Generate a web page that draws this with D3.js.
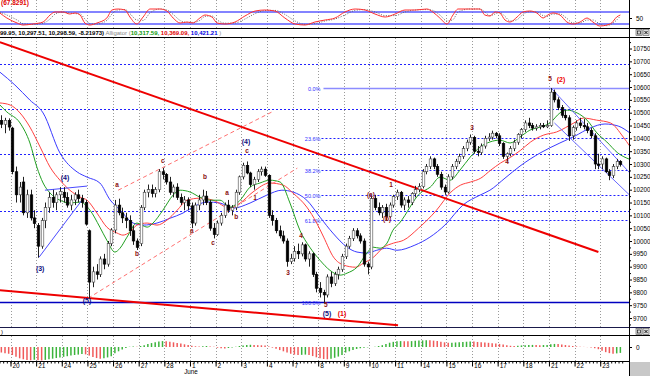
<!DOCTYPE html>
<html>
<head>
<meta charset="utf-8">
<title>Hourly chart</title>
<script src="https://cdn.jsdelivr.net/npm/d3@7"></script>
<style>
  body { margin: 0; background: #fff; }
  svg { display: block; font-family: 'Liberation Sans', Arial, sans-serif; }
</style>
</head>
<body>
<svg width="650" height="376"></svg>
<script>
// ---------- data ----------
const dayLabels = ['20', '21', '24', '25', '26', '27', '28', '1', '2', '3', '4', '7', '8', '9', '10', '11', '14', '15', '16', '17', '18', '21', '22', '23']
const barsPerDay = 7
const firstBar = -3   // three bars of the previous session are visible at the left edge

const opens = [
  10470, 10455, 10470,
  10440, 10270, 10180, 10230, 10110, 10180, 10090,
  10060, 9980, 10080, 10130, 10170, 10150, 10180,
  10190, 10170, 10140, 10160, 10180, 10165, 10150,
  10040, 9840, 9880, 9870, 9930, 9910, 9990,
  10043, 10140, 10110, 10090, 10080, 10040, 10000,
  9990, 10130, 10190, 10200, 10185, 10200, 10270,
  10259, 10230, 10190, 10210, 10170, 10150, 10160,
  10137, 10070, 10140, 10160, 10175, 10150, 10050,
  10025, 10070, 10100, 10140, 10120, 10130, 10190,
  10250, 10295, 10265, 10220, 10240, 10270, 10280,
  10256, 10100, 10080, 10040, 10020, 10000, 9920,
  9932, 9960, 9950, 9985, 9930, 9950, 9870,
  9816, 9800, 9790, 9860, 9835, 9870, 9890,
  9940, 9980, 10010, 10040, 10020, 10000, 9910,
  9899, 10165, 10130, 10110, 10130, 10095, 10140,
  10173, 10190, 10140, 10160, 10150, 10185, 10200,
  10212, 10270, 10290, 10320, 10290, 10260, 10210,
  10191, 10250, 10290, 10310, 10330, 10360, 10385,
  10404, 10350, 10345, 10370, 10400, 10405, 10420,
  10410, 10380, 10330, 10340, 10360, 10385, 10415,
  10434, 10460, 10450, 10440, 10445, 10450, 10445,
  10450, 10580, 10550, 10520, 10490, 10480, 10410,
  10442, 10460, 10450, 10445, 10430, 10410, 10300,
  10300, 10320, 10270, 10255, 10290, 10310
]
const highs = [
  10490, 10480, 10478,
  10445, 10290, 10230, 10250, 10200, 10200, 10120,
  10070, 10090, 10150, 10190, 10200, 10190, 10210,
  10210, 10190, 10180, 10190, 10200, 10180, 10160,
  10045, 9900, 9910, 9940, 9950, 10000, 10050,
  10160, 10165, 10130, 10110, 10100, 10060, 10010,
  10140, 10200, 10220, 10220, 10210, 10280, 10285,
  10265, 10250, 10220, 10225, 10185, 10175, 10170,
  10150, 10150, 10180, 10200, 10195, 10160, 10070,
  10080, 10110, 10150, 10160, 10140, 10200, 10255,
  10305, 10310, 10270, 10250, 10280, 10290, 10290,
  10260, 10120, 10090, 10060, 10040, 10010, 9950,
  9980, 9990, 9995, 9990, 9960, 9955, 9880,
  9840, 9810, 9870, 9880, 9880, 9900, 9950,
  9990, 10020, 10050, 10050, 10030, 10010, 9920,
  10175, 10180, 10150, 10140, 10145, 10150, 10180,
  10200, 10195, 10170, 10175, 10190, 10215, 10225,
  10280, 10300, 10330, 10325, 10300, 10270, 10220,
  10260, 10300, 10320, 10340, 10370, 10395, 10415,
  10410, 10370, 10380, 10410, 10420, 10430, 10425,
  10420, 10385, 10345, 10370, 10395, 10420, 10440,
  10470, 10480, 10460, 10455, 10460, 10460, 10470,
  10596, 10590, 10560, 10530, 10510, 10490, 10450,
  10470, 10480, 10475, 10460, 10440, 10420, 10340,
  10330, 10325, 10280, 10300, 10320, 10315
]
const lows = [
  10440, 10420, 10430,
  10260, 10150, 10150, 10100, 10090, 10080, 10050,
  9935, 9970, 10050, 10110, 10130, 10120, 10150,
  10150, 10130, 10120, 10140, 10150, 10130, 10060,
  9775, 9820, 9850, 9860, 9890, 9900, 9980,
  10030, 10100, 10070, 10050, 10020, 9985, 9965,
  9980, 10120, 10170, 10170, 10170, 10190, 10240,
  10220, 10180, 10170, 10160, 10140, 10120, 10120,
  10050, 10060, 10120, 10140, 10140, 10040, 10010,
  10020, 10060, 10090, 10110, 10100, 10120, 10180,
  10240, 10260, 10210, 10200, 10230, 10255, 10250,
  10090, 10060, 10030, 10010, 9990, 9900, 9910,
  9920, 9930, 9940, 9920, 9900, 9860, 9800,
  9780, 9757, 9780, 9820, 9825, 9850, 9880,
  9930, 9970, 10000, 10010, 9990, 9900, 9870,
  9890, 10120, 10100, 10090, 10080, 10090, 10130,
  10160, 10130, 10120, 10130, 10140, 10170, 10190,
  10205, 10260, 10280, 10280, 10250, 10200, 10180,
  10185, 10240, 10280, 10300, 10320, 10350, 10375,
  10340, 10330, 10335, 10360, 10390, 10395, 10400,
  10370, 10320, 10310, 10330, 10350, 10375, 10400,
  10425, 10440, 10430, 10430, 10435, 10440, 10440,
  10445, 10540, 10510, 10480, 10470, 10390, 10395,
  10430, 10440, 10435, 10420, 10400, 10280, 10280,
  10280, 10265, 10237, 10245, 10280, 10290
]
const closes = [
  10455, 10470, 10444,
  10270, 10180, 10210, 10110, 10180, 10090, 10068,
  9980, 10080, 10130, 10170, 10150, 10180, 10193,
  10170, 10140, 10160, 10180, 10165, 10150, 10066,
  9840, 9880, 9870, 9930, 9910, 9990, 10043,
  10140, 10110, 10090, 10080, 10040, 10000, 9975,
  10130, 10190, 10200, 10185, 10200, 10270, 10259,
  10230, 10190, 10210, 10170, 10150, 10160, 10137,
  10070, 10140, 10160, 10175, 10150, 10050, 10025,
  10070, 10100, 10140, 10120, 10130, 10190, 10250,
  10295, 10265, 10220, 10240, 10270, 10280, 10256,
  10100, 10080, 10040, 10020, 10000, 9920, 9932,
  9960, 9950, 9985, 9930, 9950, 9870, 9816,
  9800, 9790, 9860, 9835, 9870, 9890, 9940,
  9980, 10010, 10040, 10020, 10000, 9910, 9899,
  10165, 10130, 10110, 10130, 10095, 10140, 10173,
  10190, 10140, 10160, 10150, 10185, 10200, 10212,
  10270, 10290, 10320, 10290, 10260, 10210, 10191,
  10250, 10290, 10310, 10330, 10360, 10385, 10404,
  10350, 10345, 10370, 10400, 10405, 10420, 10410,
  10380, 10330, 10340, 10360, 10385, 10415, 10434,
  10460, 10450, 10440, 10445, 10450, 10445, 10450,
  10580, 10550, 10520, 10490, 10480, 10410, 10442,
  10460, 10450, 10445, 10430, 10410, 10300, 10294,
  10320, 10270, 10255, 10290, 10310, 10298
]

// awesome-oscillator histogram, one value per bar
const aoValues = [
  -45, -50, -55,
  -65, -80, -92, -100, -105, -108, -104,
  -108, -110, -105, -100, -95, -90, -85,
  -80, -75, -70, -65, -62, -58, -60,
  -70, -82, -90, -95, -92, -85, -75,
  -50, -35, -20, -8, 2, 5, 3,
  8, 15, 24, 32, 38, 44, 48,
  46, 42, 38, 33, 28, 22, 16,
  10, 6, 5, 7, 8, 5, 2,
  -6, -10, -12, -8, -4, 2, 8,
  12, 16, 18, 17, 15, 14, 12,
  5, -5, -15, -25, -35, -45, -55,
  -62, -66, -64, -62, -66, -74, -84,
  -92, -98, -100, -96, -88, -78, -66,
  -45, -35, -25, -16, -10, -6, -3,
  0, 3, 8, 15, 25, 35, 42,
  46, 48, 47, 46, 48, 50, 52,
  54, 56, 55, 52, 48, 42, 38,
  34, 35, 37, 39, 41, 43, 45,
  44, 41, 38, 36, 34, 31, 28,
  25, 20, 15, 10, 8, 10, 13,
  15, 16, 17, 16, 15, 16, 17,
  22, 25, 24, 20, 16, 12, 8,
  5, 3, 1, -1, -4, -10, -18,
  -30, -42, -50, -55, -52, -48
]

// alligator lines, read as [bar, price]
const jaw = [[-3.4, 10658], [0.7, 10608], [4.8, 10549], [8.4, 10499], [13, 10343], [17.7, 10269], [20.4, 10249],
  [23.9, 10226], [26.7, 10160], [29.4, 10121], [33, 10070], [35.7, 10062], [39.5, 10070], [43.1, 10089],
  [46.6, 10109], [49.3, 10132], [53.2, 10152], [56.7, 10148], [60.3, 10128], [64.9, 10148], [69.5, 10179],
  [73.6, 10198], [76.6, 10191], [80.4, 10159], [84, 10093], [87.5, 10031], [91.4, 9976], [94.1, 9957],
  [96.8, 9953], [99.5, 9964], [102.2, 9972], [105, 9964], [109.9, 9984], [114, 10015], [118.1, 10062],
  [123, 10140], [127.7, 10179], [130.4, 10198], [134.5, 10245], [138.6, 10292], [144.1, 10343],
  [149.5, 10382], [153.6, 10409], [157.7, 10440], [161.8, 10456], [165.4, 10448], [168.6, 10421]]
const teeth = [[-3.4, 10538], [-0.6, 10530], [2.1, 10499], [4.8, 10444], [7.6, 10366], [10.3, 10288], [13, 10237],
  [15.7, 10198], [18.5, 10171], [20.4, 10159], [23.1, 10109], [25.8, 10054], [28.6, 10031], [30.2, 10023],
  [32.1, 10035], [34, 10062], [36.8, 10070], [39.5, 10062], [42.2, 10081], [45, 10120], [47.7, 10159],
  [51.3, 10167], [54.8, 10159], [59.4, 10128], [62.2, 10148], [65.7, 10191], [70.3, 10226], [73.9, 10218],
  [76.6, 10187], [80.4, 10132], [83.1, 10070], [85, 10015], [87.7, 9937], [90.5, 9906], [93.7, 9898],
  [95.9, 9914], [98.6, 9937], [101.4, 9976], [104.1, 9992], [106.8, 10003], [110.9, 10050], [115.8, 10120],
  [119.7, 10190], [122.4, 10218], [125.1, 10230], [127.9, 10245], [130.6, 10276], [133.3, 10304],
  [136.1, 10327], [138.8, 10354], [141.5, 10386], [145.1, 10413], [148.6, 10425], [153.3, 10460],
  [155.9, 10479], [159.5, 10471], [163.3, 10460], [166.8, 10405], [168.6, 10369]]
const lips = [[-3.4, 10530], [-1.5, 10503], [2.1, 10460], [4.8, 10382], [6.7, 10288], [8.4, 10226], [10.3, 10187],
  [13, 10159], [15.7, 10148], [18.5, 10152], [21.2, 10120], [23.9, 10054], [25.8, 10003], [28, 9957],
  [29.4, 9972], [31.3, 10015], [34, 10070], [36.8, 10054], [38.4, 10070], [41.1, 10120], [43.9, 10179],
  [45.8, 10198], [48.5, 10191], [51.2, 10171], [54, 10159], [56.7, 10159], [59.4, 10132], [62.2, 10159],
  [64.9, 10210], [67.6, 10226], [70.3, 10237], [73.1, 10230], [75.8, 10148], [78.5, 10042], [81.2, 9976],
  [84, 9925], [86.7, 9886], [89.5, 9867], [91.4, 9875], [94.1, 9898], [96.8, 9953], [98.5, 9976],
  [100.4, 9972], [102.3, 9992], [103.9, 10042], [105.7, 10070], [111.4, 10187], [114.1, 10210],
  [116.8, 10249], [119.5, 10237], [122.2, 10276], [125, 10327], [127.7, 10366], [130.4, 10386],
  [133.1, 10393], [135.9, 10382], [138.6, 10405], [141.3, 10432], [144.1, 10444], [146.8, 10460],
  [149.5, 10499], [151.5, 10510], [154.2, 10499], [156.9, 10471], [159.6, 10421], [162.3, 10386],
  [165.3, 10343], [168.6, 10318]]

// stochastic oscillator (top panel)
const stochBars = [-3.4, -1.5, 1.3, 2.9, 5.6, 8.4, 10.3, 11.7, 13.8, 15.7, 17.1, 18.5, 19.8, 21.2, 23.1, 25.8, 27.2,
  28.8, 30.8, 32.1, 34, 35.7, 37.6, 40.3, 42.2, 43.9, 45.8, 47.7, 49.3, 51.2, 52.6, 54.5, 55.9, 58.1, 60.8,
  63.5, 66.3, 69, 71.7, 74.4, 77.2, 79.9, 82.6, 85.4, 88.1, 90.8, 93.6, 96.3, 99, 101.8, 104.5, 107.2, 110,
  113.2, 114.8, 116.7, 118.7, 120.3, 121.7, 124.9, 127.7, 129, 130.4, 131.8, 133.1, 134.5, 135.9, 137.8,
  139.4, 141.3, 143.2, 144.9, 146.2, 147.6, 149.5, 151.4, 153.1, 155, 156.9, 158.5, 160.4, 162.3, 163.6, 165, 166]
const stochK = [75, 50, 25, 15, 20, 30, 65, 80, 80, 70, 75, 65, 25, 15, 25, 50, 90, 95, 90, 55, 20, 55, 95, 95, 85,
  50, 25, 30, 25, 50, 65, 55, 25, 20, 30, 60, 85, 90, 85, 50, 20, 15, 30, 40, 50, 80, 95, 90, 70, 55, 70, 90, 90,
  95, 80, 50, 20, 65, 95, 95, 95, 65, 60, 80, 75, 40, 30, 55, 80, 85, 75, 50, 65, 75, 65, 30, 20, 30, 50, 30,
  10, 15, 25, 55, 65]
const stochD = [80, 65, 40, 22, 18, 24, 45, 70, 80, 75, 72, 70, 45, 22, 20, 38, 70, 90, 92, 72, 40, 38, 75, 95, 90,
  68, 38, 28, 28, 38, 58, 60, 40, 24, 25, 45, 72, 87, 88, 68, 35, 18, 22, 35, 45, 65, 88, 92, 80, 62, 62, 80, 90,
  92, 88, 65, 35, 42, 80, 95, 95, 80, 62, 70, 78, 58, 35, 42, 68, 82, 80, 62, 58, 70, 70, 48, 25, 25, 40, 40,
  20, 12, 20, 40, 60]

// drawn trend lines: [bar, price] end points
const redTrend = [[-3.4, 10775], [160, 9957]]
const redBase = [[-3.4, 9808], [105.3, 9672]]
const redDashUpper = [[28.9, 10198], [70.9, 10503]]
const redDashLower = [[20.7, 9777], [77.8, 10284]]
const blueTriA = [[7.3, 9937], [19, 10159]]
const blueTriB = [[8.9, 10198], [20.4, 10214]]
const blueChanUpper = [[147.1, 10596], [168.6, 10265]]
const blueChanLower = [[148, 10460], [168.6, 10178]]

// fibonacci retracement and horizontal levels
const fibHigh = 10596
const fibLow = 9764
const fibRatios = [0, 0.236, 0.382, 0.5, 0.618, 1]
const fibLabels = ['0.0%', '23.6%', '38.2%', '50.0%', '61.8%', '100.0%']
const fibStartBar = 84.4
const levels = [10690, 10514, 10339, 10117]

// wave labels: [bar, price, text]
const redLabels = [[28.6, 10218, 'a'], [34, 9949, 'b'], [41.1, 10311, 'c'], [49, 10039, 'a'], [52.6, 10249, 'b'],
  [54.8, 9992, 'c'], [58.6, 10187, 'a'], [61.1, 10093, 'b'], [64.1, 10350, 'c'], [66.3, 10167, '1'],
  [75.3, 9875, '3'], [78.8, 10019, '4'], [85.6, 9752, '5'], [97.9, 10179, '(a)'], [102.3, 10085, '(b)'],
  [103.4, 10218, '1'], [125.5, 10440, '3'], [135.1, 10308, '4'], [146.8, 10631, '5']]
const brightLabels = [[90, 9719, '(1)'], [149.8, 10631, '(2)']]
const blueLabels = [[7.6, 9894, '(3)'], [14.4, 10249, '(4)'], [20.4, 9770, '(5)'], [63.8, 10389, '(4)'], [85.9, 9719, '(5)']]

// header texts
const stochTitle = '(67.8291)'
const priceHeader = '99.95, 10,297.51, 10,298.59, -8.21973)'
const alligatorValues = ['10,317.59,', '10,369.09,', '10,421.21']

// ---------- layout ----------
const svg = d3.select('svg')
const axisX = 629
const stochBox = { top: 0, bottom: 28 }
const mainBox = { top: 38, bottom: 327 }
const aoBox = { top: 336, bottom: 361 }

const x = d3.scaleLinear().domain([0, 24 * barsPerDay]).range([10.5, 10.5 + 24 * 25.64])
const xc = b => x(b + 0.5)
const y = d3.scaleLinear().domain([9665, 10791]).range([mainBox.bottom, mainBox.top])
const yStoch = d3.scaleLinear().domain([0, 100]).range([28, 8])
const yAo = d3.scaleLinear().domain([-110, 110]).range([360.5, 333.5])

const defs = svg.append('defs')
const clip = (id, top, bottom) => defs.append('clipPath').attr('id', id)
  .append('rect').attr('x', 0).attr('y', top).attr('width', axisX).attr('height', bottom - top)
clip('cMain', mainBox.top, mainBox.bottom)
clip('cStoch', stochBox.top, stochBox.bottom)
clip('cAo', aoBox.top, aoBox.bottom)

// bottom right grey box
svg.append('rect').attr('x', axisX + 1).attr('y', 362).attr('width', 21).attr('height', 14).attr('fill', '#c8c8c8')

// vertical day gridlines in every panel
const dayStarts = d3.range(dayLabels.length).map(d => d * barsPerDay)
const grid = svg.append('g').attr('stroke', '#9a9a9a').attr('stroke-dasharray', '1,2').attr('stroke-width', 1)
;[[stochBox.top, stochBox.bottom], [mainBox.top, mainBox.bottom], [aoBox.top, aoBox.bottom]].forEach(([t, b]) => {
  grid.selectAll(null).data(dayStarts).join('line')
    .attr('x1', d => Math.round(x(d)) + 0.5).attr('x2', d => Math.round(x(d)) + 0.5)
    .attr('y1', t).attr('y2', b)
})

// ---------- stochastic panel ----------
const gS = svg.append('g').attr('clip-path', 'url(#cStoch)')
gS.selectAll(null).data([80, 20]).join('line')
  .attr('x1', 0).attr('x2', axisX).attr('y1', d => yStoch(d)).attr('y2', d => yStoch(d))
  .attr('stroke', '#5a5aff').attr('stroke-width', 1.5)
const stochLine = vals => d3.line().x((d, i) => xc(stochBars[i])).y(d => yStoch(d)).curve(d3.curveMonotoneX)(vals)
gS.append('path').attr('d', stochLine(stochD)).attr('fill', 'none').attr('stroke', '#666')
  .attr('stroke-width', 1).attr('stroke-dasharray', '1,1.5')
gS.append('path').attr('d', stochLine(stochK)).attr('fill', 'none').attr('stroke', '#ff3030').attr('stroke-width', 1)
svg.append('text').attr('x', 1).attr('y', 5).attr('fill', '#e00000').attr('font-size', 6.5).attr('font-weight', 'bold').text(stochTitle)
svg.append('g').attr('transform', `translate(${axisX},0)`)
  .call(d3.axisRight(yStoch).tickValues([50]).tickSize(3))
  .call(g => g.select('.domain').remove())
  .call(g => g.selectAll('text').attr('font-size', 6.5).attr('x', 7).attr('font-family', 'Liberation Sans'))

// ---------- header rows ----------
const hdr = svg.append('g')
hdr.append('rect').attr('x', 0).attr('y', 29).attr('width', 650).attr('height', 8).attr('fill', '#fff')
const ht = hdr.append('text').attr('x', 0).attr('y', 35.3).attr('font-size', 6).attr('font-weight', 'bold')
ht.append('tspan').attr('fill', '#000').text(priceHeader)
ht.append('tspan').attr('fill', '#888').attr('font-weight', 'normal').text(' Alligator (')
const algColors = ['#0a9a0a', '#e00000', '#0000e0']
alligatorValues.forEach((v, i) => ht.append('tspan').attr('fill', algColors[i]).text(i ? ' ' + v : v))
ht.append('tspan').attr('fill', '#888').attr('font-weight', 'normal').text(' )')
svg.append('text').attr('x', 1).attr('y', 333.5).attr('font-size', 6).text(')')

// small window buttons
;[29.5, 328.5].forEach(t => {
  ;[636, 643].forEach((bx, k) => {
    const b = svg.append('g').attr('transform', `translate(${bx},${t})`)
    b.append('rect').attr('width', 6).attr('height', 6).attr('fill', '#ddd').attr('stroke', '#555').attr('stroke-width', 0.6)
    if (k) {
      b.append('path').attr('d', 'M1.5,1.5L4.5,4.5M4.5,1.5L1.5,4.5').attr('stroke', '#000').attr('stroke-width', 0.9)
    } else {
      b.append('rect').attr('x', 1.5).attr('y', 1.5).attr('width', 3).attr('height', 3).attr('fill', 'none').attr('stroke', '#000').attr('stroke-width', 0.6)
    }
  })
})

// ---------- main price panel ----------
const gM = svg.append('g').attr('clip-path', 'url(#cMain)')

// horizontal levels
gM.selectAll(null).data(levels).join('line')
  .attr('x1', 0).attr('x2', axisX).attr('y1', d => Math.round(y(d)) + 0.5).attr('y2', d => Math.round(y(d)) + 0.5)
  .attr('stroke', '#2020ff').attr('stroke-dasharray', '2,2')

// fibonacci levels
const fibPrice = r => fibHigh - r * (fibHigh - fibLow)
fibRatios.forEach((r, i) => {
  const yy = Math.round(y(fibPrice(r))) + 0.5
  const line = gM.append('line').attr('y1', yy).attr('y2', yy).attr('x2', axisX)
  if (r === 1) {
    line.attr('x1', 0).attr('stroke', '#0000c0').attr('stroke-width', 1.6)
  } else if (r === 0) {
    line.attr('x1', xc(fibStartBar) + 2).attr('stroke', '#8c8cff').attr('stroke-width', 1.6)
  } else {
    line.attr('x1', xc(fibStartBar)).attr('stroke', '#2020ff').attr('stroke-dasharray', '2,2')
  }
  gM.append('text').attr('x', xc(fibStartBar) - 1).attr('y', yy + 2).attr('text-anchor', 'end')
    .attr('font-size', 5.5).attr('fill', '#3030ff').text(fibLabels[i])
})

// alligator
const alLine = d3.line().x(d => xc(d[0])).y(d => y(d[1])).curve(d3.curveMonotoneX)
;[[jaw, '#3a3aff'], [teeth, '#ff4040'], [lips, '#22a022']].forEach(([pts, c]) => {
  gM.append('path').attr('d', alLine(pts)).attr('fill', 'none').attr('stroke', c).attr('stroke-width', 1)
})

// trend lines
const seg = (pts, color, w, dash) => gM.append('line')
  .attr('x1', xc(pts[0][0])).attr('y1', y(pts[0][1])).attr('x2', xc(pts[1][0])).attr('y2', y(pts[1][1]))
  .attr('stroke', color).attr('stroke-width', w).attr('stroke-dasharray', dash || null)
seg(redTrend, '#ee0000', 2)
seg(redBase, '#ee0000', 2)
seg(redDashUpper, '#ff7070', 1, '4,3')
seg(redDashLower, '#ff7070', 1, '4,3')
seg(blueTriA, '#4a4aff', 1)
seg(blueTriB, '#4a4aff', 1)
seg(blueChanUpper, '#6a6aff', 1)
seg(blueChanLower, '#6a6aff', 1)

// candles
const bars = d3.range(opens.length).map(k => ({
  b: firstBar + k, o: opens[k], h: highs[k], l: lows[k], c: closes[k]
}))
const cg = gM.append('g')
cg.selectAll('line.w').data(bars).join('line').attr('class', 'w')
  .attr('x1', d => Math.round(xc(d.b)) + 0.5).attr('x2', d => Math.round(xc(d.b)) + 0.5)
  .attr('y1', d => y(d.h)).attr('y2', d => y(d.l)).attr('stroke', '#222').attr('stroke-width', 1)
cg.selectAll('rect').data(bars).join('rect')
  .attr('x', d => Math.round(xc(d.b)) - 0.8).attr('width', 2.6)
  .attr('y', d => y(Math.max(d.o, d.c)))
  .attr('height', d => Math.max(0.8, Math.abs(y(d.o) - y(d.c))))
  .attr('fill', d => d.c >= d.o ? '#fff' : '#000')
  .attr('stroke', d => d.c >= d.o ? '#444' : '#000').attr('stroke-width', 0.6)

// wave labels
const lab = (arr, color, size, weight) => gM.selectAll(null).data(arr).join('text')
  .attr('x', d => xc(d[0])).attr('y', d => y(d[1])).attr('dy', '0.35em').attr('text-anchor', 'middle')
  .attr('font-size', size).attr('font-weight', weight).attr('fill', color).text(d => d[2])
lab(redLabels, '#8a1010', 6.5, 'bold')
lab(brightLabels, '#ee0000', 7, 'bold')
lab(blueLabels, '#101080', 7, 'bold')

// price axis
const priceTicks = d3.range(9700, 10751, 50)
svg.append('g').attr('transform', `translate(${axisX},0)`)
  .call(d3.axisRight(y).tickValues(d3.range(9675, 10776, 50)).tickSize(2).tickFormat(''))
  .call(g => g.select('.domain').remove())
svg.append('g').attr('transform', `translate(${axisX},0)`)
  .call(d3.axisRight(y).tickValues(priceTicks).tickSize(3).tickFormat(d3.format('d')))
  .call(g => g.select('.domain').remove())
  .call(g => g.selectAll('text').attr('font-size', 6.3).attr('x', 4).attr('font-family', 'Liberation Sans'))

// ---------- AO panel ----------
const gA = svg.append('g').attr('clip-path', 'url(#cAo)')
gA.selectAll('line').data(aoValues).join('line')
  .attr('x1', (d, k) => xc(firstBar + k)).attr('x2', (d, k) => xc(firstBar + k))
  .attr('y1', yAo(0)).attr('y2', d => yAo(d))
  .attr('stroke', (d, k) => k > 0 && d > aoValues[k - 1] ? '#3cb43c' : '#f05a5a')
  .attr('stroke-width', 1.5)
svg.append('g').attr('transform', `translate(${axisX},0)`)
  .call(d3.axisRight(yAo).tickValues([0]).tickSize(3))
  .call(g => g.select('.domain').remove())
  .call(g => g.selectAll('text').attr('font-size', 6.5).attr('x', 7).attr('font-family', 'Liberation Sans'))

// ---------- date axis ----------
const gx = svg.append('g').attr('transform', 'translate(0,361.5)')
gx.call(d3.axisBottom(x).tickValues(d3.range(firstBar, 24 * barsPerDay)).tickSize(2).tickFormat(''))
  .call(g => g.select('.domain').remove())
gx.append('g').call(d3.axisBottom(x).tickValues(dayStarts).tickSize(5)
  .tickFormat((d, i) => dayLabels[i]))
  .call(g => g.select('.domain').remove())
  .call(g => g.selectAll('text').attr('font-size', 6.5).attr('text-anchor', 'start').attr('x', 1.5).attr('y', 1.4)
    .attr('font-family', 'Liberation Sans'))
gx.append('text').attr('x', x(7 * barsPerDay) + 1).attr('y', 12.6).attr('font-size', 6.3)
  .attr('fill', '#000').attr('font-family', 'Liberation Sans').text('June')

// ---------- frame lines ----------
const frame = svg.append('g').attr('stroke', '#000').attr('shape-rendering', 'crispEdges')
frame.append('line').attr('x1', 0).attr('x2', 650).attr('y1', 28.5).attr('y2', 28.5)
frame.append('line').attr('x1', 0).attr('x2', 650).attr('y1', 37.5).attr('y2', 37.5)
frame.append('line').attr('x1', 0).attr('x2', 650).attr('y1', 327.5).attr('y2', 327.5).attr('stroke', '#1a1a4a').attr('stroke-width', 1.5)
frame.append('line').attr('x1', 0).attr('x2', 650).attr('y1', 335.5).attr('y2', 335.5)
frame.append('line').attr('x1', 0).attr('x2', axisX).attr('y1', 361.5).attr('y2', 361.5)
frame.append('line').attr('x1', axisX + 0.5).attr('x2', axisX + 0.5).attr('y1', 0).attr('y2', 376)
</script>
</body>
</html>
